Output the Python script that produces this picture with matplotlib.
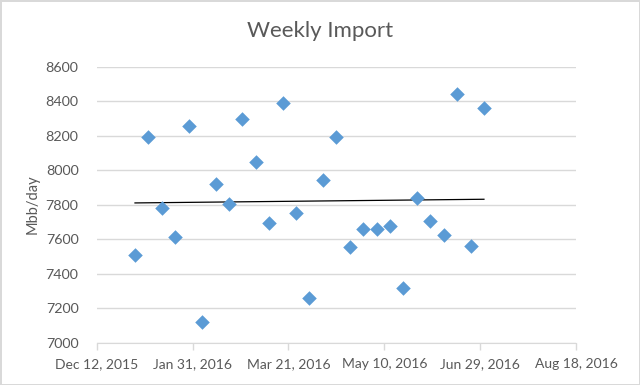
import numpy as np
import pandas as pd
import matplotlib
matplotlib.use('Agg')
import matplotlib.pyplot as plt
import matplotlib.dates as mdates

# weekly import data (Mbb/day), weeks starting Jan 1, 2016
dates = pd.date_range('2016-01-01', periods=27, freq='7D')
imports = [7508, 8191, 7779, 7611, 8258, 7122, 7918, 7804, 8295, 8049,
           7696, 8388, 7750, 7257, 7943, 8191, 7553, 7661, 7657, 7675,
           7315, 7839, 7707, 7623, 8442, 7559, 8362]

tick_dates = pd.date_range('2015-12-12', periods=6, freq='50D')

plt.rcParams['font.family'] = ['Lato', 'DejaVu Sans']

fig = plt.figure(figsize=(6.4, 3.85), dpi=100)
fig.patch.set_edgecolor('#d9d9d9')
fig.patch.set_linewidth(2)
ax = fig.add_axes([0.151, 0.11, 0.749, 0.717])

x = mdates.date2num(dates)
ax.scatter(x, imports, marker='D', s=55, color='#5B9BD5', zorder=3, linewidths=0)

# trendline
coef = np.polyfit(x, imports, 1)
trend = np.poly1d(coef)
ax.plot([x[0], x[-1]], trend([x[0], x[-1]]), color='black', lw=0.9, zorder=2)

ax.set_xlim(mdates.date2num(tick_dates[0]), mdates.date2num(tick_dates[-1]))
ax.set_ylim(7000, 8600)
ax.set_xticks(mdates.date2num(tick_dates))
ax.xaxis.set_major_formatter(mdates.DateFormatter('%b %d, %Y'))
ax.set_yticks(range(7000, 8601, 200))

ax.grid(axis='y', color='#d9d9d9', lw=1)
ax.set_axisbelow(True)
for s in ['top', 'right', 'left']:
    ax.spines[s].set_visible(False)
ax.spines['bottom'].set_color('#d9d9d9')
ax.tick_params(axis='x', colors='#d9d9d9', length=5, width=1, labelcolor='#595959',
               labelsize=10, pad=6)
ax.tick_params(axis='y', length=0, labelcolor='#595959', labelsize=10.3, pad=13)

fig.text(0.5, 0.92, 'Weekly Import', fontsize=16, color='#595959', ha='center', va='center')
ax.set_ylabel('Mbb/day', fontsize=10.5, color='#595959', labelpad=4)

fig.savefig('out.png', dpi=100)
